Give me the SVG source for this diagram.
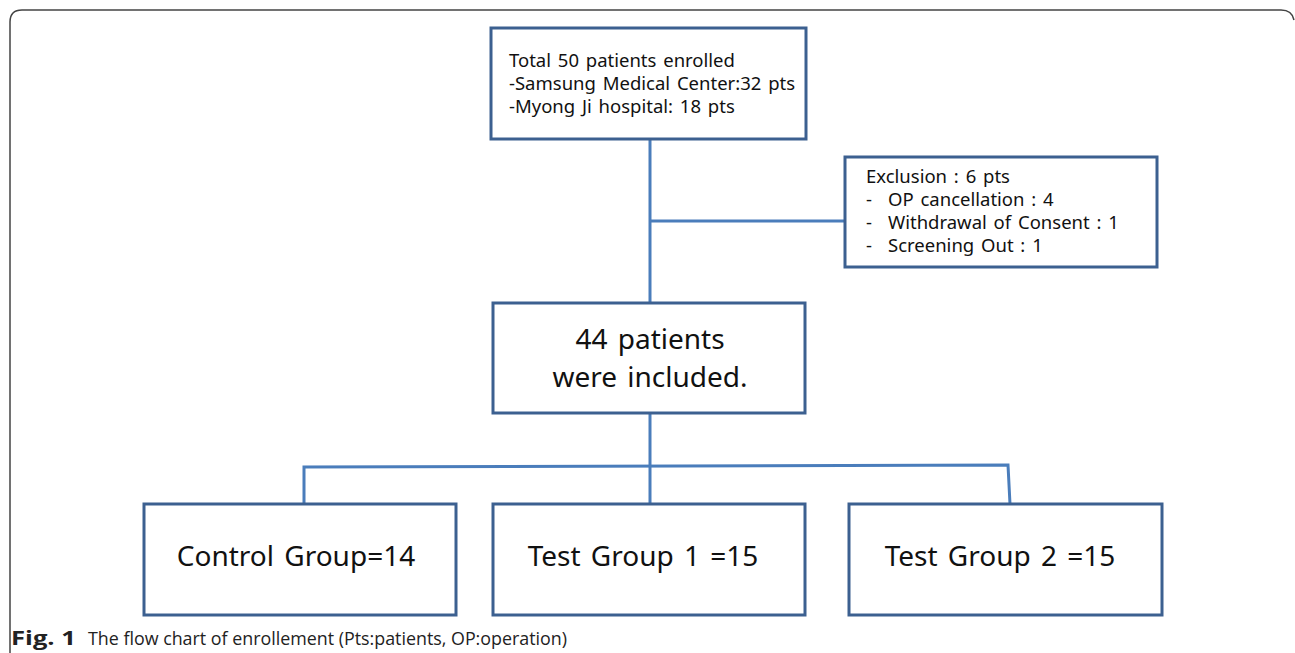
<svg xmlns="http://www.w3.org/2000/svg" width="1295" height="653" viewBox="0 0 1295 653">
<style>
.box{fill:#fff;stroke:#3c6090;stroke-width:3}
.con{fill:none;stroke:#4a7dbb;stroke-width:3}
.t{font-family:"Noto Sans","Open Sans",sans-serif;fill:#111}
.s{font-size:18.5px;word-spacing:2px}
.l{font-size:28px;word-spacing:3px}
.cap{font-family:"Open Sans","Noto Sans",sans-serif;font-size:19px;fill:#222}
</style>
<rect width="1295" height="653" fill="#fff"/>
<path d="M10,653 V22 Q10,10 22,10 H1281 Q1292,10 1294,20" fill="none" stroke="#444" stroke-width="1.5"/>
<g id="connectors">
<path class="con" d="M650,139 V303"/>
<path class="con" d="M650,221 H845"/>
<path class="con" d="M650,413 V504"/>
<path class="con" d="M304,504 V467 L1008,465 L1010,504"/>
</g>
<g id="enrolled">
<rect class="box" x="491" y="28" width="315" height="111"/>
<text class="t s" x="509" y="67">Total 50 patients enrolled</text>
<text class="t s" x="509" y="90">-Samsung Medical Center:32 pts</text>
<text class="t s" x="509" y="113">-Myong Ji hospital: 18 pts</text>
</g>
<g id="exclusion">
<rect class="box" x="845" y="157" width="312" height="110"/>
<text class="t s" x="866" y="183">Exclusion : 6 pts</text>
<text class="t s" y="206"><tspan x="866">-</tspan><tspan x="888">OP cancellation : 4</tspan></text>
<text class="t s" y="229"><tspan x="866">-</tspan><tspan x="888">Withdrawal of Consent : 1</tspan></text>
<text class="t s" y="252"><tspan x="866">-</tspan><tspan x="888">Screening Out : 1</tspan></text>
</g>
<g id="included">
<rect class="box" x="493" y="303" width="312" height="110"/>
<text class="t l" x="650" y="349" text-anchor="middle">44 patients</text>
<text class="t l" x="650" y="387" text-anchor="middle">were included.</text>
</g>
<g id="control">
<rect class="box" x="144" y="504" width="312" height="111"/>
<text class="t l" x="296" y="566" text-anchor="middle">Control Group=14</text>
</g>
<g id="test1">
<rect class="box" x="493" y="504" width="312" height="111"/>
<text class="t l" x="643" y="566" text-anchor="middle">Test Group 1 =15</text>
</g>
<g id="test2">
<rect class="box" x="849" y="504" width="313" height="111"/>
<text class="t l" x="1000" y="566" text-anchor="middle">Test Group 2 =15</text>
</g>
<text class="cap" x="11" y="645" font-weight="bold" font-size="20" textLength="65" lengthAdjust="spacingAndGlyphs">Fig. 1</text>
<text class="cap" x="88" y="645" textLength="479" lengthAdjust="spacingAndGlyphs">The flow chart of enrollement (Pts:patients, OP:operation)</text>
</svg>
